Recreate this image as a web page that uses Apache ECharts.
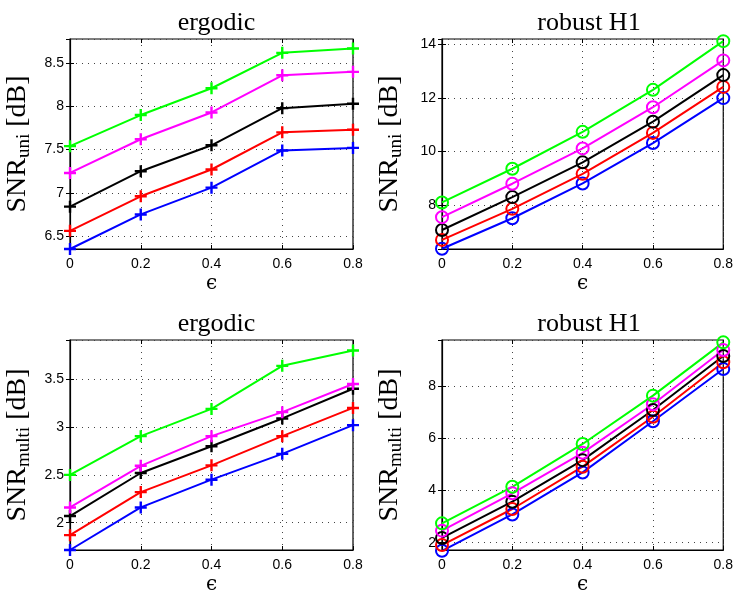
<!DOCTYPE html>
<html>
<head>
<meta charset="utf-8">
<script src="https://cdn.jsdelivr.net/npm/echarts@6/dist/echarts.min.js"></script>
<style>
  html, body { margin: 0; padding: 0; background: #fff; }
  #chart { width: 736px; height: 596px; }
</style>
</head>
<body>
<div id="chart"></div>
<script>
// outage probability parameter epsilon
const epsValues = [0, 0.2, 0.4, 0.6, 0.8];

// curve colours, drawn in this order
const curveColors = ['#0000ff', '#ff0000', '#000000', '#ff00ff', '#00ff00'];

// SNR_uni, ergodic scheme (one row per curve: blue, red, black, magenta, green)
const uniErgodicBlue    = [6.35, 6.75, 7.06, 7.49, 7.52];
const uniErgodicRed     = [6.56, 6.96, 7.27, 7.70, 7.73];
const uniErgodicBlack   = [6.84, 7.25, 7.55, 7.98, 8.03];
const uniErgodicMagenta = [7.23, 7.62, 7.93, 8.36, 8.40];
const uniErgodicGreen   = [7.54, 7.90, 8.21, 8.62, 8.67];

// SNR_uni, robust H1 scheme
const uniRobustBlue    = [6.36, 7.50, 8.80, 10.31, 11.99];
const uniRobustRed     = [6.69, 7.85, 9.16, 10.69, 12.41];
const uniRobustBlack   = [7.06, 8.29, 9.59, 11.11, 12.85];
const uniRobustMagenta = [7.54, 8.79, 10.11, 11.65, 13.40];
const uniRobustGreen   = [8.09, 9.35, 10.73, 12.30, 14.12];

// SNR_multi, ergodic scheme
const multiErgodicBlue    = [1.715, 2.16, 2.45, 2.72, 3.02];
const multiErgodicRed     = [1.87, 2.32, 2.60, 2.905, 3.20];
const multiErgodicBlack   = [2.07, 2.52, 2.80, 3.09, 3.40];
const multiErgodicMagenta = [2.16, 2.595, 2.905, 3.156, 3.45];
const multiErgodicGreen   = [2.50, 2.905, 3.19, 3.64, 3.80];

// SNR_multi, robust H1 scheme
const multiRobustBlue    = [1.69, 3.08, 4.69, 6.65, 8.65];
const multiRobustRed     = [1.91, 3.29, 4.91, 6.82, 8.91];
const multiRobustBlack   = [2.18, 3.57, 5.16, 7.08, 9.15];
const multiRobustMagenta = [2.46, 3.89, 5.44, 7.30, 9.38];
const multiRobustGreen   = [2.74, 4.14, 5.78, 7.63, 9.67];

// y-axis extents of the four panels
const yExtents = [[6.35, 8.78], [6.35, 14.2], [1.715, 3.91], [1.72, 9.76]];
const ySplits = [5, 4, 4, 4];

const panelTitles = ['ergodic', 'robust H1', 'ergodic', 'robust H1'];
const panelYNames = ['uni', 'uni', 'multi', 'multi'];
const panelCurves = [
  [uniErgodicBlue, uniErgodicRed, uniErgodicBlack, uniErgodicMagenta, uniErgodicGreen],
  [uniRobustBlue, uniRobustRed, uniRobustBlack, uniRobustMagenta, uniRobustGreen],
  [multiErgodicBlue, multiErgodicRed, multiErgodicBlack, multiErgodicMagenta, multiErgodicGreen],
  [multiRobustBlue, multiRobustRed, multiRobustBlack, multiRobustMagenta, multiRobustGreen]
];
const panelMarkers = ['plus', 'circle', 'plus', 'circle'];

const grids = [
  { left: 70,  top: 39,  width: 283, height: 210 },
  { left: 442, top: 39,  width: 284, height: 210 },
  { left: 70,  top: 340, width: 283, height: 210 },
  { left: 442, top: 340, width: 284, height: 210 }
];

const PLUS = 'path://M4,0H6V4H10V6H6V10H4V6H0V4H4Z';
const serif = 'Liberation Serif';
const sans = 'Liberation Sans';

const dotted = { show: true, lineStyle: { color: '#444', width: 1, type: [1, 5] } };
const tickStyle = { show: true, inside: true, length: 4, lineStyle: { color: '#000' } };

const option = {
  animation: false,
  backgroundColor: '#fff',
  title: grids.map((g, i) => ({
    text: panelTitles[i],
    left: g.left + g.width / 2,
    top: g.top - 34,
    textAlign: 'center',
    textStyle: { fontFamily: serif, fontSize: 26, fontWeight: 'normal', color: '#000' }
  })),
  grid: grids.map(g => Object.assign({
    show: true, borderColor: '#000', borderWidth: 1.2, backgroundColor: '#fff'
  }, g)),
  xAxis: [],
  yAxis: [],
  series: []
};

grids.forEach((g, i) => {
  // bottom axis with labels, plus a mirrored top axis carrying only inward ticks
  option.xAxis.push({
    type: 'value',
    gridIndex: i,
    min: 0, max: 0.8, interval: 0.2,
    name: 'ϵ',
    nameLocation: 'middle',
    nameGap: 25,
    nameTextStyle: { fontFamily: 'DejaVu Serif', fontSize: 20, color: '#000' },
    axisLine: { show: true, onZero: false, lineStyle: { color: '#000', width: 1.2 } },
    axisTick: tickStyle,
    axisLabel: {
      margin: 8, fontFamily: sans, fontSize: 14, color: '#000',
      formatter: v => (v === 0 ? '0' : v.toFixed(1))
    },
    splitLine: dotted
  });
  option.xAxis.push({
    type: 'value',
    gridIndex: i,
    position: 'top',
    min: 0, max: 0.8, interval: 0.2,
    axisLine: { show: false },
    axisTick: tickStyle,
    axisLabel: { show: false },
    splitLine: { show: false }
  });
  const ySpec = {
    type: 'value',
    gridIndex: i,
    min: yExtents[i][0], max: yExtents[i][1],
    splitNumber: ySplits[i]
  };
  option.yAxis.push(Object.assign({}, ySpec, {
    name: '{m|SNR}{s|' + panelYNames[i] + '}{m| [dB]}',
    nameLocation: 'middle',
    nameGap: 36,
    nameRotate: 90,
    nameTextStyle: {
      rich: {
        m: { fontFamily: serif, fontSize: 28, lineHeight: 32, color: '#000', verticalAlign: 'middle' },
        s: { fontFamily: serif, fontSize: 19, lineHeight: 16, color: '#000', verticalAlign: 'bottom' }
      }
    },
    axisLine: { show: true, onZero: false, lineStyle: { color: '#000', width: 1.2 } },
    axisTick: tickStyle,
    axisLabel: { margin: 6, fontFamily: sans, fontSize: 14, color: '#000', showMinLabel: false, showMaxLabel: false },
    splitLine: dotted
  }));
  option.yAxis.push(Object.assign({}, ySpec, {
    position: 'right',
    axisLine: { show: false },
    axisTick: tickStyle,
    axisLabel: { show: false },
    splitLine: { show: false }
  }));
});

panelCurves.forEach((curves, p) => {
  curves.forEach((vals, k) => {
    const c = curveColors[k];
    const isPlus = panelMarkers[p] === 'plus';
    option.series.push({
      type: 'line',
      xAxisIndex: 2 * p,
      yAxisIndex: 2 * p,
      data: epsValues.map((x, j) => [x, vals[j]]),
      symbol: isPlus ? PLUS : 'circle',
      symbolSize: isPlus ? 12 : 12,
      showAllSymbol: true,
      clip: false,
      lineStyle: { color: c, width: 2 },
      itemStyle: isPlus
        ? { color: c, borderWidth: 0 }
        : { color: 'rgba(0,0,0,0)', borderColor: c, borderWidth: 2 },
      emphasis: { disabled: true }
    });
  });
});

const chart = echarts.init(document.getElementById('chart'), null, { renderer: 'canvas' });
chart.setOption(option);
</script>
</body>
</html>
